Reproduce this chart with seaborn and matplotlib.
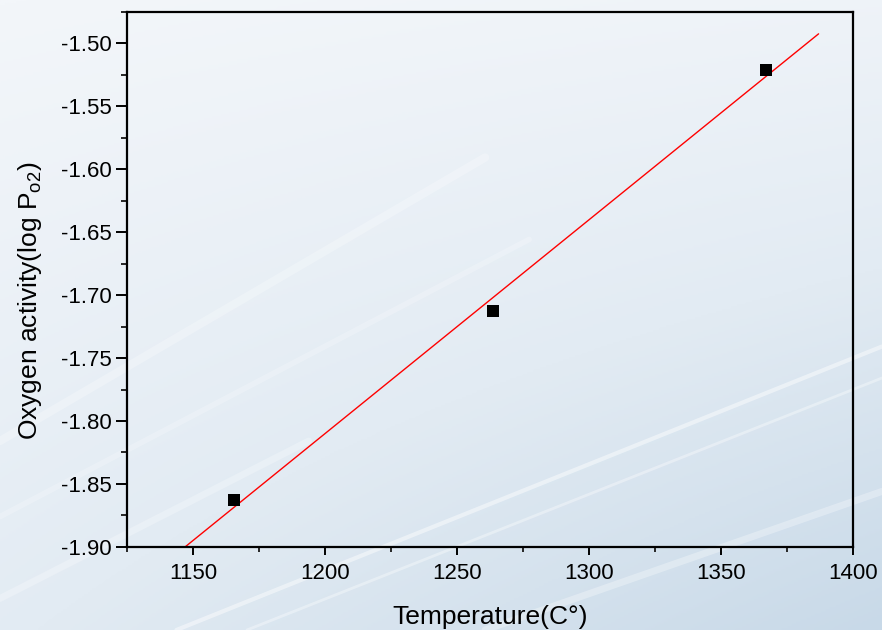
import numpy as np
import pandas as pd
import matplotlib
matplotlib.use("Agg")
import matplotlib.pyplot as plt
from matplotlib.ticker import MultipleLocator, FormatStrFormatter
from matplotlib.colors import LinearSegmentedColormap
import seaborn as sns

# data
temperature = [1165.5, 1263.6, 1367.0]
log_po2 = [-1.863, -1.713, -1.521]
fit_range = [1140.0, 1387.0]

sns.set_theme(style="ticks")
plt.rcParams['font.family'] = ['Liberation Sans', 'DejaVu Sans']
plt.rcParams['mathtext.fontset'] = 'custom'
plt.rcParams['mathtext.rm'] = 'Liberation Sans'
plt.rcParams['axes.unicode_minus'] = False

df = pd.DataFrame({'T': temperature, 'logP': log_po2})
slope, intercept = np.polyfit(df['T'], df['logP'], 1)
fit_x = np.linspace(fit_range[0], fit_range[1], 50)
fit_df = pd.DataFrame({'T': fit_x, 'logP': slope * fit_x + intercept})

fig = plt.figure(figsize=(8.82, 6.30), dpi=100)

# background: pale blue gradient with a few light streaks
bg = fig.add_axes([0, 0, 1, 1], zorder=-10)
yy, xx = np.mgrid[0:1:300j, 0:1:420j]
grad = 0.55 * yy + 0.45 * xx * yy + 0.15 * xx
cmap = LinearSegmentedColormap.from_list('bgblue', ['#f3f6fa', '#e2ebf3', '#c8d9e8'])
bg.imshow(grad, cmap=cmap, extent=[0, 1, 0, 1], aspect='auto', origin='upper')
for x0, y0, x1, y1, a, w in [(0.0, 0.30, 0.55, 0.75, 0.25, 6),
                             (0.0, 0.18, 0.60, 0.62, 0.22, 4),
                             (0.20, 0.0, 1.0, 0.45, 0.45, 3),
                             (0.28, 0.0, 1.0, 0.40, 0.35, 2),
                             (0.55, 0.0, 1.0, 0.22, 0.30, 5),
                             (0.0, 0.05, 0.35, 0.30, 0.25, 5)]:
    bg.plot([x0, x1], [y0, y1], color='white', alpha=a, lw=w, solid_capstyle='round')
bg.set_xlim(0, 1)
bg.set_ylim(0, 1)
bg.axis('off')

ax = fig.add_axes([0.144, 0.132, 0.823, 0.849])
ax.set_facecolor('none')

sns.lineplot(data=fit_df, x='T', y='logP', color='red', lw=1.0, ax=ax)
sns.scatterplot(data=df, x='T', y='logP', marker='s', color='black', s=70,
                edgecolor='black', linewidth=0, ax=ax, zorder=3)

ax.set_xlim(1125, 1400)
ax.set_ylim(-1.90, -1.475)
ax.xaxis.set_major_locator(MultipleLocator(50))
ax.xaxis.set_minor_locator(MultipleLocator(25))
ax.yaxis.set_major_locator(MultipleLocator(0.05))
ax.yaxis.set_minor_locator(MultipleLocator(0.025))
ax.yaxis.set_major_formatter(FormatStrFormatter('%.2f'))

for s in ax.spines.values():
    s.set_color('black')
    s.set_linewidth(1.6)
ax.tick_params(axis='x', which='major', direction='out', length=5.5, width=1.4,
               labelsize=16, pad=6, colors='black')
ax.tick_params(axis='x', which='minor', direction='out', length=3.5, width=1.4)
ax.tick_params(axis='y', which='major', direction='out', length=8, width=1.4,
               labelsize=16, pad=3, colors='black')
ax.tick_params(axis='y', which='minor', direction='out', length=4.5, width=1.4)

ax.set_xlabel('Temperature(C°)', fontsize=19, color='black', labelpad=15)
ax.set_ylabel(r'Oxygen activity(log P$_{\mathregular{o2}}$)', fontsize=19,
              color='black', labelpad=12)
ax.yaxis.label.set_y(0.46)

fig.savefig('out.png', dpi=100)
